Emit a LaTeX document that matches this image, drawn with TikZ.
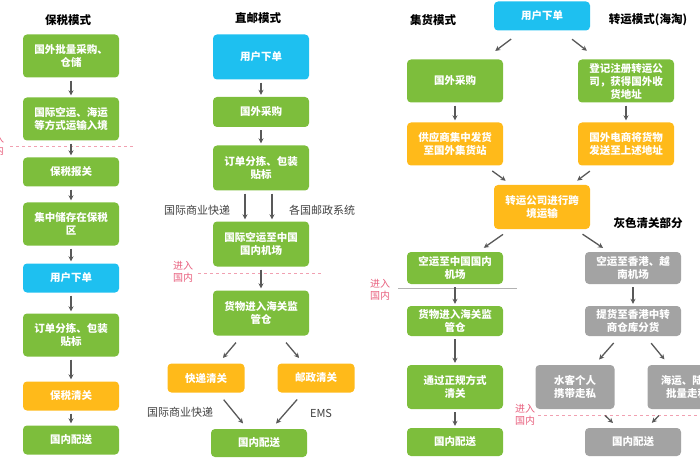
\documentclass[tikz,border=0pt]{standalone}
\usepackage{fontspec}
\setmainfont{Noto Sans CJK SC}
\usetikzlibrary{arrows.meta}
\definecolor{gbox}{HTML}{7DBE3C}
\definecolor{cbox}{HTML}{1EC0F0}
\definecolor{obox}{HTML}{FFBA1A}
\definecolor{hbox}{HTML}{A3A3A3}
\definecolor{intxt}{HTML}{E8607E}
\tikzset{
  box/.style={rounded corners=4pt, text=white, font=\bfseries\fontsize{10.5}{13}\selectfont, align=center, minimum width=96pt, inner sep=2pt},
  arr/.style={-{Stealth[length=5pt,width=5pt]}, line width=1.3pt, gray!70!black, shorten <=3pt, shorten >=2pt},
  darr/.style={arr, shorten <=9pt, shorten >=7pt},
  ttl/.style={font=\bfseries\fontsize{11.5}{13}\selectfont},
  lbl/.style={font=\fontsize{11}{13}\selectfont, text=black!75},
  inl/.style={font=\fontsize{10}{12}\selectfont, text=intxt, align=left},
}
\begin{document}
\begin{tikzpicture}[x=1pt,y=-1pt]
\useasboundingbox (0,0) rectangle (700,470);
% bonded mode
\node[ttl] (tb) at (68,20){保税模式};
\node[box, fill=gbox, minimum height=43pt] (b1) at (71,56){国外批量采购、\\仓储};
\node[box, fill=gbox, minimum height=43pt] (b2) at (71,119){国际空运、海运\\等方式运输入境};
\node[box, fill=gbox, minimum height=29pt] (b3) at (71,172){保税报关};
\node[box, fill=gbox, minimum height=43pt] (b4) at (71,224){集中储存在保税\\区};
\node[box, fill=cbox, minimum height=29pt] (b5) at (71,278){用户下单};
\node[box, fill=gbox, minimum height=43pt] (b6) at (71,335){订单分拣、包装\\贴标};
\node[box, fill=obox, minimum height=29pt] (b7) at (71,396){保税清关};
\node[box, fill=gbox, minimum height=29pt] (b8) at (71,440){国内配送};
\node[inl] (bin) at (-6,145){进入\\国内};
\draw[intxt!60, dashed] (10,146) -- (133,146);
\foreach \i/\j in {b1/b2,b2/b3,b3/b4,b4/b5,b5/b6,b6/b7,b7/b8}
  \draw[arr] (\i) -- (\j);
% direct mail mode
\node[ttl] (tz) at (258,18){直邮模式};
\node[box, fill=cbox, minimum height=45pt] (z1) at (261,57){用户下单};
\node[box, fill=gbox, minimum height=30pt] (z2) at (261,112){国外采购};
\node[box, fill=gbox, minimum height=45pt] (z3) at (261,168){订单分拣、包装\\贴标};
\node[box, fill=gbox, minimum height=45pt] (z4) at (261,244){国际空运至中国\\国内机场};
\node[box, fill=gbox, minimum height=45pt] (z5) at (261,313){货物进入海关监\\管仓};
\node[box, fill=obox, minimum height=29pt, minimum width=77pt] (z6) at (206,378){快递清关};
\node[box, fill=obox, minimum height=29pt, minimum width=77pt] (z7) at (316,378){邮政清关};
\node[box, fill=gbox, minimum height=28pt] (z8) at (259,443){国内配送};
\node[lbl] (zl1) at (197,210){国际商业快递};
\node[lbl] (zl2) at (322,210){各国邮政系统};
\node[lbl] (zl3) at (180,412){国际商业快递};
\node[lbl] (zl4) at (321,413){EMS};
\node[inl] (zin) at (183,272){进入\\国内};
\draw[intxt!60, dashed] (198,273) -- (322,273);
\draw[arr] (z1) -- (z2);
\draw[arr] (z2) -- (z3);
\draw[arr] ([xshift=-16pt]z3.south) -- ([xshift=-16pt]z4.north);
\draw[arr] ([xshift=11pt]z3.south) -- ([xshift=11pt]z4.north);
\draw[arr] (z4) -- (z5);
\draw[darr] (z5) -- (z6);
\draw[darr] (z5) -- (z7);
\draw[darr] (z6) -- (z8);
\draw[darr] (z7) -- (z8);
% consolidation / forwarding mode
\node[ttl] (tj) at (433,20){集货模式};
\node[ttl] (tf) at (648,20){转运模式(海淘)};
\node[ttl] (tg) at (648,223){灰色清关部分};
\node[box, fill=cbox, minimum height=29pt] (u0) at (542,16){用户下单};
\node[box, fill=gbox, minimum height=43pt] (j1) at (455,81){国外采购};
\node[box, fill=obox, minimum height=43pt] (j2) at (455,144){供应商集中发货\\至国外集货站};
\node[box, fill=gbox, minimum height=43pt] (f1) at (626,81){登记注册转运公\\司，获得国外收\\货地址};
\node[box, fill=obox, minimum height=43pt] (f2) at (626,144){国外电商将货物\\发送至上述地址};
\node[box, fill=obox, minimum height=44pt] (c0) at (542,207){转运公司进行跨\\境运输};
\node[box, fill=gbox, minimum height=32pt] (j3) at (455,268){空运至中国国内\\机场};
\node[box, fill=gbox, minimum height=30pt] (j4) at (455,321){货物进入海关监\\管仓};
\node[box, fill=gbox, minimum height=44pt] (j5) at (455,387){通过正规方式\\清关};
\node[box, fill=gbox, minimum height=28pt] (j6) at (455,442){国内配送};
\node[box, fill=hbox, minimum height=32pt] (g1) at (633,268){空运至香港、越\\南机场};
\node[box, fill=hbox, minimum height=30pt] (g2) at (633,321){提货至香港中转\\商仓库分货};
\node[box, fill=hbox, minimum height=44pt, minimum width=79pt] (g3) at (575,387){水客个人\\携带走私};
\node[box, fill=hbox, minimum height=44pt, minimum width=79pt] (g4) at (687,387){海运、陆运\\批量走私};
\node[box, fill=hbox, minimum height=28pt] (g5) at (633,442){国内配送};
\node[inl] (jin) at (380,290){进入\\国内};
\node[inl] (gin) at (525,415){进入\\国内};
\draw[gray!60] (398,288) -- (517,288);
\draw[intxt!60, dashed] (538,415) -- (700,415);
\draw[darr, shorten <=14pt, shorten >=14pt] (u0) -- (j1);
\draw[darr, shorten <=14pt, shorten >=14pt] (u0) -- (f1);
\draw[arr] (j1) -- (j2);
\draw[arr] (f1) -- (f2);
\draw[darr] (j2) -- (c0);
\draw[darr] (f2) -- (c0);
\draw[darr] (c0) -- (j3);
\draw[darr] (c0) -- (g1);
\draw[arr] (j3) -- (j4);
\draw[arr] (j4) -- (j5);
\draw[arr] (j5) -- (j6);
\draw[arr] (g1) -- (g2);
\draw[darr] (g2) -- (g3);
\draw[darr] (g2) -- (g4);
\draw[darr] (g3) -- (g5);
\draw[darr] (g4) -- (g5);
\end{tikzpicture}
\end{document}
